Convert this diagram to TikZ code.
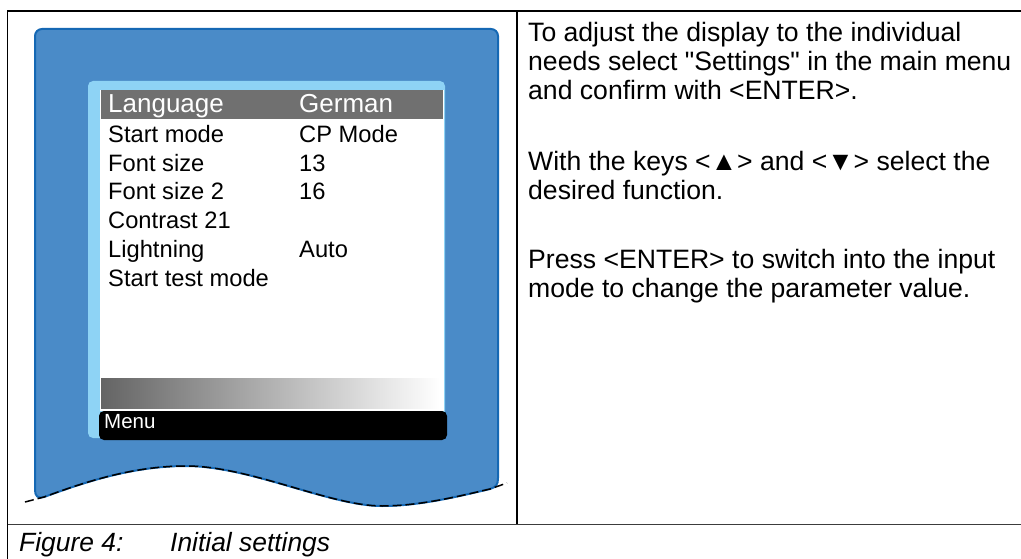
\documentclass[tikz,border=0pt]{standalone}
\usepackage{fontspec}
\setmainfont{Liberation Sans}[Ligatures=TeXOff]
\definecolor{devblue}{RGB}{74,139,200}
\definecolor{devline}{RGB}{21,104,180}
\definecolor{scrframe}{RGB}{142,211,245}
\definecolor{hlgray}{RGB}{112,112,112}
\definecolor{rulegray}{RGB}{60,60,60}
\definecolor{gradgray}{RGB}{100,100,100}
\begin{document}
\begin{tikzpicture}[x=1pt,y=-1pt,
  rowtext/.style={anchor=base west, inner sep=0pt, font=\fontsize{23.7}{28}\selectfont},
  hltext/.style={anchor=base west, inner sep=0pt, text=white, font=\fontsize{26}{30}\selectfont},
  bodytext/.style={anchor=base west, inner sep=0pt, font=\fontsize{26.6}{29}\selectfont},
  captext/.style={anchor=base west, inner sep=0pt, font=\fontsize{26.4}{29}\selectfont\itshape},
  tablerule/.style={line width=1.2pt, black},
  cutline/.style={line width=1.5pt, black, dash pattern=on 9pt off 4pt}]
\useasboundingbox (0,0) rectangle (1021,559);
% table rules
\draw[tablerule] (1021,11) -- (7.5,11) -- (7.5,559);
\draw[tablerule] (517,11) -- (517,524.5);
\draw[line width=1.5pt, rulegray] (7.5,524.5) -- (1021,524.5);
% device body
\path[fill=devblue, draw=devline, line width=2pt]
  (35,36) arc[start angle=180, end angle=270, radius=7] -- (491,29)
  arc[start angle=270, end angle=360, radius=7] -- (498,478)
  .. controls (498,485) and (496,487) .. (490,489)
  .. controls (460,496) and (420,506) .. (382,506)
  .. controls (330,506) and (250,466) .. (186,466)
  .. controls (130,466) and (80,484) .. (44,497)
  .. controls (38,499) and (35,496) .. (35,490) -- cycle;
\coordinate (cutL) at (25,502);
\coordinate (cutR) at (507,483);
\draw[cutline] (cutL) -- (44,497)
  .. controls (80,484) and (130,466) .. (186,466)
  .. controls (250,466) and (330,506) .. (382,506)
  .. controls (420,506) and (460,496) .. (490,489) -- (cutR);
% screen
\fill[scrframe, rounded corners=5pt] (88,81) rectangle (445,438);
\fill[white] (100,90) rectangle (444,411);
\fill[hlgray] (101,90) rectangle (443,119.5);
\shade[left color=gradgray, right color=white] (101,378) rectangle (440,408);
\fill[black, rounded corners=5pt] (99,411) rectangle (447,440);
% menu rows
\node[hltext] (l1) at (108,113) {Language};
\node[hltext] (v1) at (299,113) {German};
\node[rowtext] (l2) at (108,142.7) {Start mode};
\node[rowtext] (v2) at (299,142.7) {CP Mode};
\node[rowtext] (l3) at (108,171.3) {Font size};
\node[rowtext] (v3) at (299,171.3) {13};
\node[rowtext] (l4) at (108,200) {Font size 2};
\node[rowtext] (v4) at (299,200) {16};
\node[rowtext] (l5) at (108,228.7) {Contrast 21};
\node[rowtext] (l6) at (108,257.3) {Lightning};
\node[rowtext] (v6) at (299,257.3) {Auto};
\node[rowtext] (l7) at (108,286) {Start test mode};
\node[anchor=base west, inner sep=0pt, text=white, font=\fontsize{20.5}{24}\selectfont] (menu) at (104,428) {Menu};
% right text
\node[bodytext] (t1) at (528,41.7) {To adjust the display to the individual};
\node[bodytext] (t2) at (528,70.7) {needs select "Settings" in the main menu};
\node[bodytext] (t3) at (528,99.5) {and confirm with <ENTER>.};
\node[bodytext] (t4) at (528,170.5) {With the keys <▲> and <▼> select the};
\node[bodytext] (t5) at (528,199.5) {desired function.};
\node[bodytext] (t6) at (528,268) {Press <ENTER> to switch into the input};
\node[bodytext] (t7) at (528,297) {mode to change the parameter value.};
% caption
\node[captext] (cap1) at (19,551) {Figure 4:};
\node[captext] (cap2) at (170,551) {Initial settings};
\end{tikzpicture}
\end{document}
